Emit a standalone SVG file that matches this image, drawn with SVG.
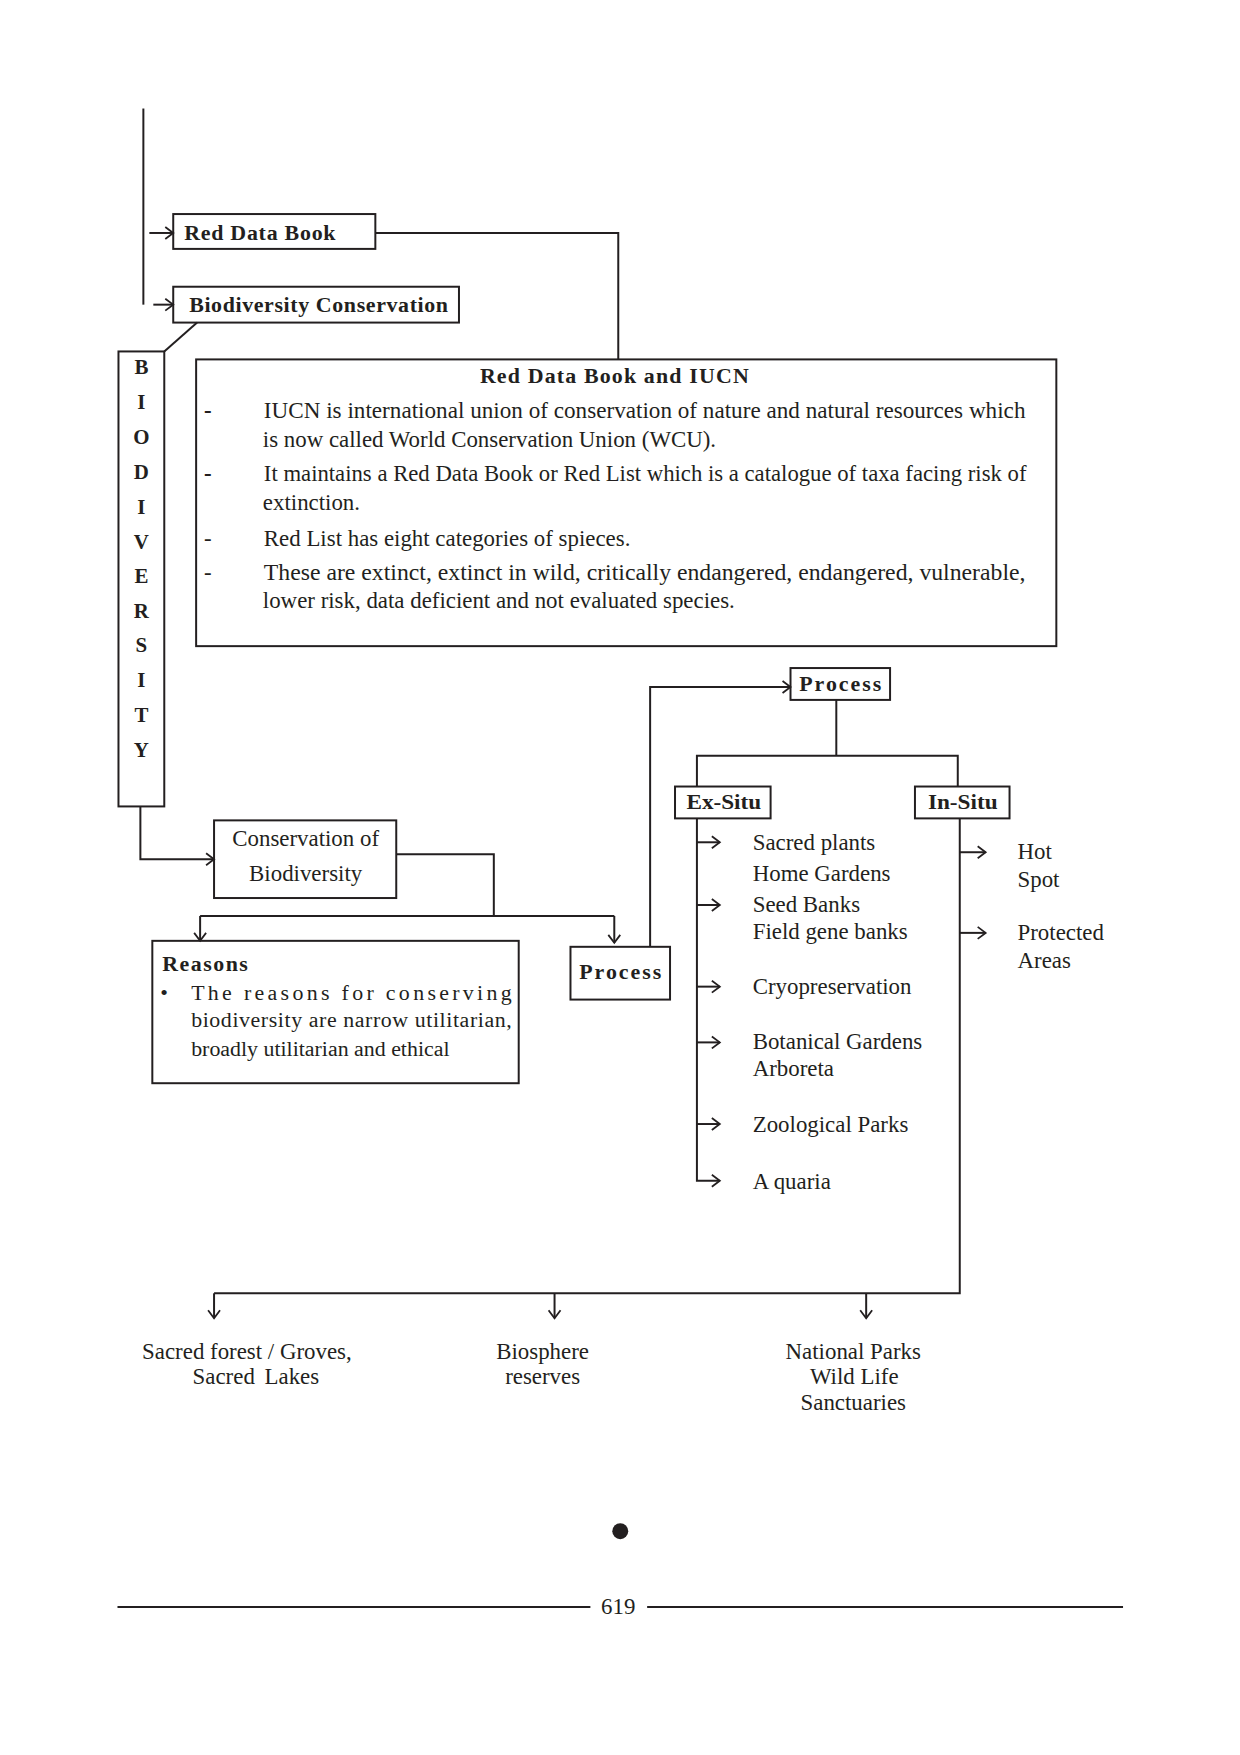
<svg xmlns="http://www.w3.org/2000/svg" width="1240" height="1755" viewBox="0 0 1240 1755">
<style>
.bx{fill:none;stroke:#231f20;stroke-width:2}
.ln{fill:none;stroke:#231f20;stroke-width:2}
.ar{fill:none;stroke:#231f20;stroke-width:2;marker-end:url(#ah)}
text{font-family:"Liberation Serif","Times New Roman",serif;fill:#231f20}
.t{font-size:23px}
.s{font-size:22px}
.b{font-size:21px;font-weight:bold}
.bb{font-size:22px;font-weight:bold}
.pr{font-size:22px;font-weight:bold;letter-spacing:2px}
.m{text-anchor:middle}
</style>
<defs>
<marker id="ah" markerUnits="userSpaceOnUse" markerWidth="12" markerHeight="14" refX="10" refY="7" orient="auto">
<path d="M2,1 L10,7 L2,13" fill="none" stroke="#231f20" stroke-width="1.8"/>
</marker>
</defs>
<rect width="1240" height="1755" fill="#fff"/>
<g transform="scale(0.9956)">
<g id="connectors">
<line class="ln" x1="144" y1="109" x2="144" y2="306"/>
<line class="ar" x1="150" y1="234" x2="174" y2="234"/>
<line class="ar" x1="154" y1="306" x2="174" y2="306"/>
<polyline class="ln" points="377,234 621,234 621,361"/>
<line class="ln" x1="198" y1="324" x2="165" y2="353"/>
<polyline class="ar" points="141,810 141,863 215,863"/>
<polyline class="ln" points="398,858 496,858 496,920"/>
<line class="ln" x1="201" y1="920" x2="617" y2="920"/>
<line class="ar" x1="201" y1="920" x2="201" y2="945"/>
<line class="ar" x1="617" y1="920" x2="617" y2="947"/>
<polyline class="ar" points="653,951 653,690 794,690"/>
<line class="ln" x1="840" y1="703" x2="840" y2="759"/>
<polyline class="ln" points="700,790 700,759 962,759 962,790"/>
<polyline class="ar" points="700,822 700,1186 723,1186"/>
<line class="ar" x1="700" y1="846" x2="723" y2="846"/>
<line class="ar" x1="700" y1="909" x2="723" y2="909"/>
<line class="ar" x1="700" y1="991" x2="723" y2="991"/>
<line class="ar" x1="700" y1="1047" x2="723" y2="1047"/>
<line class="ar" x1="700" y1="1129" x2="723" y2="1129"/>
<polyline class="ln" points="964,822 964,1299 215,1299"/>
<line class="ar" x1="964" y1="856" x2="990" y2="856"/>
<line class="ar" x1="964" y1="937" x2="990" y2="937"/>
<line class="ar" x1="215" y1="1299" x2="215" y2="1324"/>
<line class="ar" x1="557" y1="1299" x2="557" y2="1324"/>
<line class="ar" x1="870" y1="1299" x2="870" y2="1324"/>
</g>

<g id="red-data-book">
<rect class="bx" x="174" y="215" width="203" height="35"/>
<text class="bb" x="185" y="241" textLength="152" lengthAdjust="spacing">Red Data Book</text>
</g>

<g id="biodiversity-conservation">
<rect class="bx" x="174" y="288" width="287" height="36"/>
<text class="bb" x="190" y="313" textLength="260" lengthAdjust="spacing">Biodiversity Conservation</text>
</g>

<g id="biodiversity-vertical">
<rect class="bx" x="119" y="353" width="46" height="457"/>
<text class="b m" x="142" y="376">B</text>
<text class="b m" x="142" y="411">I</text>
<text class="b m" x="142" y="446">O</text>
<text class="b m" x="142" y="481">D</text>
<text class="b m" x="142" y="516">I</text>
<text class="b m" x="142" y="551">V</text>
<text class="b m" x="142" y="586">E</text>
<text class="b m" x="142" y="621">R</text>
<text class="b m" x="142" y="655">S</text>
<text class="b m" x="142" y="690">I</text>
<text class="b m" x="142" y="725">T</text>
<text class="b m" x="142" y="760">Y</text>
</g>

<g id="iucn">
<rect class="bx" x="197" y="361" width="864" height="288"/>
<text class="bb" x="482" y="385" textLength="270" lengthAdjust="spacing">Red Data Book and IUCN</text>
<text class="t" x="205" y="420" font-weight="bold">-</text>
<text class="t" x="265" y="420" textLength="765" lengthAdjust="spacingAndGlyphs">IUCN is international union of conservation of nature and natural resources which</text>
<text class="t" x="264" y="449">is now called World Conservation Union (WCU).</text>
<text class="t" x="205" y="483" font-weight="bold">-</text>
<text class="t" x="265" y="483" textLength="766" lengthAdjust="spacingAndGlyphs">It maintains a Red Data Book or Red List which is a catalogue of taxa facing risk of</text>
<text class="t" x="264" y="512">extinction.</text>
<text class="t" x="205" y="548">-</text>
<text class="t" x="265" y="548">Red List has eight categories of spieces.</text>
<text class="t" x="205" y="583">-</text>
<text class="t" x="265" y="583" textLength="765" lengthAdjust="spacingAndGlyphs">These are extinct, extinct in wild, critically endangered, endangered, vulnerable,</text>
<text class="t" x="264" y="611">lower risk, data deficient and not evaluated species.</text>
</g>

<g id="conservation-of-biodiversity">
<rect class="bx" x="215" y="824" width="183" height="78"/>
<text class="t m" x="307" y="850">Conservation of</text>
<text class="t m" x="307" y="885">Biodiversity</text>
</g>

<g id="reasons">
<rect class="bx" x="153" y="945" width="368" height="143"/>
<text class="bb" x="163" y="975" letter-spacing="1.5">Reasons</text>
<text class="s" x="161" y="1004">•</text>
<text class="s" x="192" y="1004" textLength="322" lengthAdjust="spacing">The reasons for conserving</text>
<text class="s" x="192" y="1032" textLength="322" lengthAdjust="spacing">biodiversity are narrow utilitarian,</text>
<text class="s" x="192" y="1061">broadly utilitarian and ethical</text>
</g>

<g id="process-lower">
<rect class="bx" x="573" y="951" width="100" height="53"/>
<text class="pr m" x="624" y="983">Process</text>
</g>

<g id="process-top">
<rect class="bx" x="794" y="671" width="100" height="32"/>
<text class="pr m" x="845" y="694">Process</text>
</g>

<g id="ex-situ">
<rect class="bx" x="678" y="790" width="96" height="32"/>
<text class="bb m" x="727" y="813" textLength="75" lengthAdjust="spacingAndGlyphs">Ex-Situ</text>
</g>

<g id="in-situ">
<rect class="bx" x="919" y="790" width="95" height="32"/>
<text class="bb m" x="967" y="813" textLength="70" lengthAdjust="spacingAndGlyphs">In-Situ</text>
</g>

<g id="ex-situ-items">
<text class="t" x="756" y="854">Sacred plants</text>
<text class="t" x="756" y="885">Home Gardens</text>
<text class="t" x="756" y="916">Seed Banks</text>
<text class="t" x="756" y="943">Field gene banks</text>
<text class="t" x="756" y="998">Cryopreservation</text>
<text class="t" x="756" y="1054">Botanical Gardens</text>
<text class="t" x="756" y="1081">Arboreta</text>
<text class="t" x="756" y="1137">Zoological Parks</text>
<text class="t" x="756" y="1194">A quaria</text>
</g>

<g id="in-situ-items">
<text class="t" x="1022" y="863">Hot</text>
<text class="t" x="1022" y="891">Spot</text>
<text class="t" x="1022" y="944">Protected</text>
<text class="t" x="1022" y="972">Areas</text>
</g>

<g id="in-situ-bottom">
<text class="t m" x="248" y="1365" font-size="23.5">Sacred forest / Groves,</text>
<text class="t m" x="257" y="1390" font-size="23.5" word-spacing="4">Sacred Lakes</text>
<text class="t m" x="545" y="1365" font-size="23.5">Biosphere</text>
<text class="t m" x="545" y="1390" font-size="23.5">reserves</text>
<text class="t m" x="857" y="1365" font-size="23.5">National Parks</text>
<text class="t m" x="858" y="1390" font-size="23.5">Wild Life</text>
<text class="t m" x="857" y="1416" font-size="23.5">Sanctuaries</text>
</g>

<g id="footer">
<circle cx="623" cy="1538" r="8" fill="#231f20"/>
<line class="ln" x1="118" y1="1614" x2="593" y2="1614"/>
<line class="ln" x1="650" y1="1614" x2="1128" y2="1614"/>
<text class="t m" x="621" y="1621">619</text>
</g>
</g>
</svg>
